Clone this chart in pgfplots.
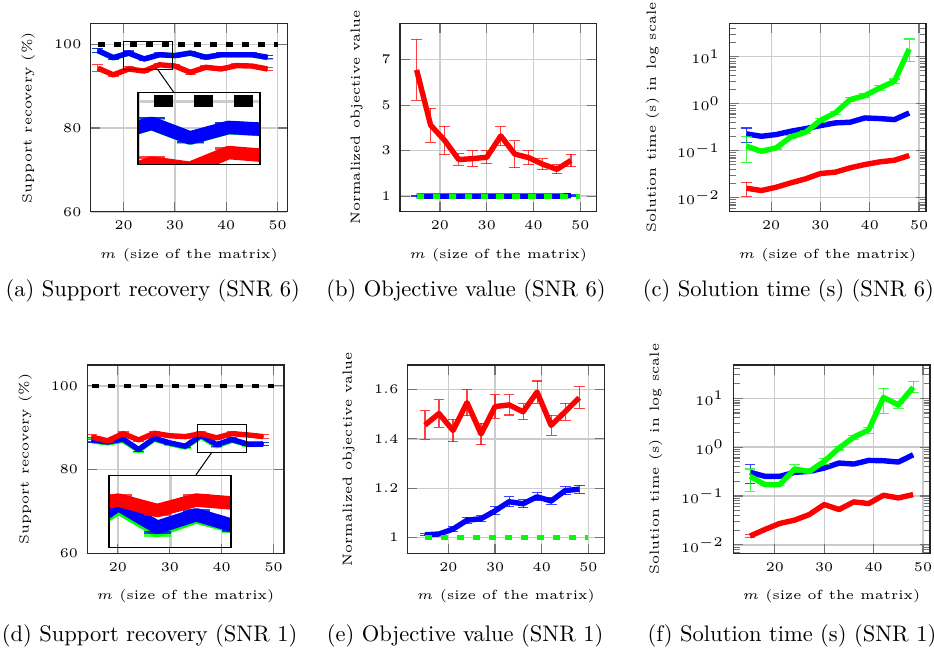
\documentclass[border=0pt]{standalone}
\usepackage{pgfplots}
\usepackage{pgfplotstable}
\pgfplotsset{compat=1.18}
\usetikzlibrary{spy}
\definecolor{cred}{RGB}{255,0,0}
\definecolor{cblue}{RGB}{0,0,255}
\definecolor{cgreen}{RGB}{0,255,0}
\pgfplotstableread{
x g b be r re
15 98.47 98.5 0.5 94.3 0.8
18 96.77 96.8 0.4 92.7 0.5
21 97.87 97.9 0.5 94.1 0.5
24 96.47 96.5 0.4 93.6 0.4
27 97.47 97.5 0.4 95.1 0.4
30 97.27 97.3 0.4 94.8 0.4
33 97.87 97.9 0.4 93.3 0.5
36 96.87 96.9 0.4 94.5 0.4
39 97.47 97.5 0.4 94.1 0.4
42 97.47 97.5 0.4 94.9 0.4
45 97.47 97.5 0.4 94.8 0.4
48 96.87 96.9 0.4 94.1 0.4
}\tabA
\pgfplotstableread{
x g b be r re
15 86.9 87.1 0.5 87.8 0.5
18 86.4 86.6 0.4 86.9 0.4
21 87.0 87.3 0.4 88.6 0.4
24 84.6 84.8 0.5 87.1 0.4
27 87.3 87.5 0.4 88.7 0.4
30 86.2 86.4 0.4 88.1 0.4
33 85.4 85.6 0.4 87.9 0.4
36 87.9 88.2 0.6 88.6 0.4
39 85.7 86.0 0.5 87.6 0.4
42 87.0 87.2 0.4 88.6 0.4
45 86.0 86.1 0.4 88.3 0.4
48 86.1 86.1 0.4 87.9 0.4
}\tabD
\pgfplotstableread{
x y
15 100
50 100
}\tabRef
\pgfplotsset{
  myax/.style={
    scale only axis, width=87.4pt, height=83.8pt, anchor=north west,
    grid=major, major grid style={line width=0.6pt, black!20},
    axis line style={line width=0.5pt, black!85},
    tick style={black!55, line width=0.5pt},
    tick label style={font=\fontsize{5}{6}\selectfont, scale=1.18},
    label style={font=\fontsize{5}{6}\selectfont, scale=1.18},
    xtick={20,30,40,50},
    xlabel={$m$ (size of the matrix)},
    xlabel style={at={(axis description cs:0.5,-0.228)}, anchor=center},
  },
  ln/.style={line width=2.4pt, line join=round},
  eb/.style={error bars/.cd, y dir=both, y explicit,
    error bar style={line width=0.5pt, opacity=0.75},
    error mark options={rotate=90, line width=0.5pt, mark size=2.4pt, opacity=0.75}},
}
\begin{document}
\begin{tikzpicture}[spy using outlines={rectangle, magnification=2.5},
  every spy on node/.append style={line width=0.45pt},
  every spy in node/.append style={line width=1.3pt},
  spy connection path={\draw[line width=0.45pt] (tikzspyonnode) -- (tikzspyinnode);}]
\path[use as bounding box] (0,0) rectangle (415.11pt,-288pt);

% (a)
\begin{axis}[myax, at={(40.31pt,-10.36pt)}, xmin=13.6, xmax=51.9, ymin=60, ymax=105,
  ytick={60,80,100}, ylabel={Support recovery (\%)},
  ylabel style={at={(axis description cs:-0.317,0.5)}, anchor=center}]
\addplot[ln, cgreen, eb] table[x=x, y=g, y error=be] {\tabA};
\addplot[ln, cblue, eb] table[x=x, y=b, y error=be] {\tabA};
\addplot[ln, cred, eb] table[x=x, y=r, y error=re] {\tabA};
\addplot[line width=2.1pt, black, dash pattern=on 3.3pt off 3.8pt] table {\tabRef};
\coordinate (spyA) at (axis cs:24.7,97.4);
\coordinate (insA) at (axis cs:34.7,79.9);
\end{axis}

% (b)
\begin{axis}[myax, at={(177.78pt,-10.36pt)}, xmin=11.45, xmax=53.5, ymin=0.31, ymax=8.6,
  ytick={1,3,5,7}, ylabel={Normalized objective value},
  ylabel style={at={(axis description cs:-0.22,0.5)}, anchor=center}]
\addplot[ln, cblue, eb] coordinates {(15,1)+-(0,0.03) (18,1)+-(0,0.02) (21,1)+-(0,0.02) (24,1)+-(0,0.02) (27,1)+-(0,0.02) (30,1)+-(0,0.02) (33,1)+-(0,0.02) (36,1)+-(0,0.02) (39,1)+-(0,0.02) (42,1)+-(0,0.02) (45,1)+-(0,0.02) (48,1.02)+-(0,0.03)};
\addplot[ln, cred, eb] coordinates {(15,6.55)+-(0,1.34) (18,4.12)+-(0,0.75) (21,3.45)+-(0,0.62) (24,2.61)+-(0,0.26) (27,2.65)+-(0,0.35) (30,2.71)+-(0,0.29) (33,3.65)+-(0,0.41) (36,2.85)+-(0,0.59) (39,2.69)+-(0,0.31) (42,2.40)+-(0,0.24) (45,2.18)+-(0,0.2) (48,2.57)+-(0,0.28)};
\addplot[line width=2.2pt, cgreen, dash pattern=on 3.3pt off 3.8pt] coordinates {(15,1) (50,1)};
\end{axis}

% (c)
\begin{axis}[myax, at={(324.13pt,-10.36pt)}, xmin=11.5, xmax=51.4, ymode=log, ymin=0.005, ymax=51,
  ytick={0.01,0.1,1,10},
  minor ytick={0.006,0.007,0.008,0.009,0.02,0.03,0.04,0.05,0.06,0.07,0.08,0.09,0.2,0.3,0.4,0.5,0.6,0.7,0.8,0.9,2,3,4,5,6,7,8,9,20,30,40,50},
  ylabel={Solution time (s) in log scale},
  ylabel style={at={(axis description cs:-0.39,0.5)}, anchor=center}]
\addplot[ln, cblue, eb] coordinates {(15,0.227)+=(0,0.077)-=(0,0.081) (18,0.202) (21,0.22) (24,0.259) (27,0.294) (30,0.341) (33,0.389) (36,0.402) (39,0.496) (42,0.481) (45,0.457) (48,0.634)};
\addplot[ln, cgreen, eb] coordinates {(15,0.124)+=(0,0.078)-=(0,0.067) (18,0.0973)+-(0,0.005) (21,0.1145)+-(0,0.006) (24,0.196)+-(0,0.012) (27,0.246)+-(0,0.015) (30,0.443)+-(0,0.04) (33,0.634)+-(0,0.05) (36,1.216)+-(0,0.12) (39,1.479)+-(0,0.15) (42,2.15)+-(0,0.25) (45,2.98)+-(0,0.35) (48,14.5)+=(0,9.1)-=(0,6.6)};
\addplot[ln, cred, eb] coordinates {(15,0.0159)+=(0,0.0055)-=(0,0.0051) (18,0.0142) (21,0.0167) (24,0.0207) (27,0.0252) (30,0.0327) (33,0.0349) (36,0.0431) (39,0.0507) (42,0.0577) (45,0.0626) (48,0.0787)};
\end{axis}

% (d)
\begin{axis}[myax, at={(38.8pt,-162.2pt)}, xmin=14.1, xmax=52.0, ymin=60, ymax=105,
  ytick={60,80,100}, ylabel={Support recovery (\%)},
  ylabel style={at={(axis description cs:-0.315,0.5)}, anchor=center}]
\addplot[ln, cgreen, eb] table[x=x, y=g, y error=be] {\tabD};
\addplot[ln, cblue, eb] table[x=x, y=b, y error=be] {\tabD};
\addplot[ln, cred, eb] table[x=x, y=r, y error=re] {\tabD};
\addplot[line width=2.1pt, black, dash pattern=on 3.3pt off 3.8pt] table {\tabRef};
\coordinate (spyD) at (axis cs:40.0,87.5);
\coordinate (insD) at (axis cs:30.08,70.0);
\end{axis}

% (e)
\begin{axis}[myax, at={(181.2pt,-162.2pt)}, xmin=11.3, xmax=53.4, ymin=0.935, ymax=1.70,
  ytick={1,1.2,1.4,1.6}, ylabel={Normalized objective value},
  ylabel style={at={(axis description cs:-0.30,0.5)}, anchor=center}]
\addplot[ln, cred, eb] coordinates {(15,1.456)+-(0,0.058) (18,1.503)+-(0,0.056) (21,1.434)+-(0,0.046) (24,1.547)+-(0,0.053) (27,1.42)+-(0,0.043) (30,1.531)+-(0,0.048) (33,1.538)+-(0,0.041) (36,1.51)+-(0,0.033) (39,1.59)+-(0,0.045) (42,1.455)+-(0,0.04) (45,1.51)+-(0,0.035) (48,1.567)+-(0,0.045)};
\addplot[ln, cblue, eb] coordinates {(15,1.011)+-(0,0.004) (18,1.014)+-(0,0.005) (21,1.034)+-(0,0.01) (24,1.07)+-(0,0.012) (27,1.076)+-(0,0.012) (30,1.108)+-(0,0.016) (33,1.145)+-(0,0.02) (36,1.137)+-(0,0.017) (39,1.165)+-(0,0.016) (42,1.148)+-(0,0.013) (45,1.19)+-(0,0.016) (48,1.196)+-(0,0.016)};
\addplot[line width=2.2pt, cgreen, dash pattern=on 3.3pt off 3.8pt] coordinates {(15,1) (50,1)};
\end{axis}

% (f)
\begin{axis}[myax, at={(325.9pt,-162.2pt)}, xmin=11.6, xmax=51.4, ymode=log, ymin=0.00668, ymax=47.9,
  ytick={0.01,0.1,1,10},
  minor ytick={0.007,0.008,0.009,0.02,0.03,0.04,0.05,0.06,0.07,0.08,0.09,0.2,0.3,0.4,0.5,0.6,0.7,0.8,0.9,2,3,4,5,6,7,8,9,20,30,40},
  ylabel={Solution time (s) in log scale},
  ylabel style={at={(axis description cs:-0.395,0.5)}, anchor=center}]
\addplot[ln, cblue, eb] coordinates {(15,0.305)+=(0,0.131)-=(0,0.126) (18,0.253) (21,0.253) (24,0.305) (27,0.319) (30,0.373) (33,0.472) (36,0.451) (39,0.535) (42,0.527) (45,0.495) (48,0.698)};
\addplot[ln, cgreen, eb] coordinates {(15,0.253)+=(0,0.103)-=(0,0.128) (18,0.171)+-(0,0.01) (21,0.171)+-(0,0.01) (24,0.356)+=(0,0.08)-=(0,0.05) (27,0.319)+-(0,0.03) (30,0.511)+=(0,0.086)-=(0,0.075) (33,0.954)+-(0,0.08) (36,1.6)+-(0,0.15) (39,2.25)+=(0,0.3)-=(0,0.32) (42,10.4)+=(0,5.5)-=(0,5.5) (45,7.28)+=(0,0.6)-=(0,1.06) (48,16.7)+=(0,5.7)-=(0,3.7)};
\addplot[ln, cred, eb] coordinates {(15,0.0152)+-(0,0.001) (18,0.0207) (21,0.0275) (24,0.0321) (27,0.0419) (30,0.067) (33,0.053) (36,0.0759) (39,0.0701) (42,0.1037) (45,0.0914) (48,0.107)};
\end{axis}

\spy[width=54.2pt, height=32pt] on (spyA) in node at (insA);
\spy[width=54.2pt, height=32pt] on (spyD) in node at (insD);

\node[anchor=base, font=\fontsize{10}{12}\selectfont] at (67.9pt,-131.8pt) {(a) Support recovery (SNR 6)};
\node[anchor=base, font=\fontsize{10}{12}\selectfont] at (207.1pt,-131.8pt) {(b) Objective value (SNR 6)};
\node[anchor=base, font=\fontsize{10}{12}\selectfont] at (350.4pt,-131.8pt) {(c) Solution time (s) (SNR 6)};
\node[anchor=base, font=\fontsize{10}{12}\selectfont] at (66.5pt,-285.2pt) {(d) Support recovery (SNR 1)};
\node[anchor=base, font=\fontsize{10}{12}\selectfont] at (206.7pt,-285.2pt) {(e) Objective value (SNR 1)};
\node[anchor=base, font=\fontsize{10}{12}\selectfont] at (352pt,-285.2pt) {(f) Solution time (s) (SNR 1)};
\end{tikzpicture}
\end{document}
